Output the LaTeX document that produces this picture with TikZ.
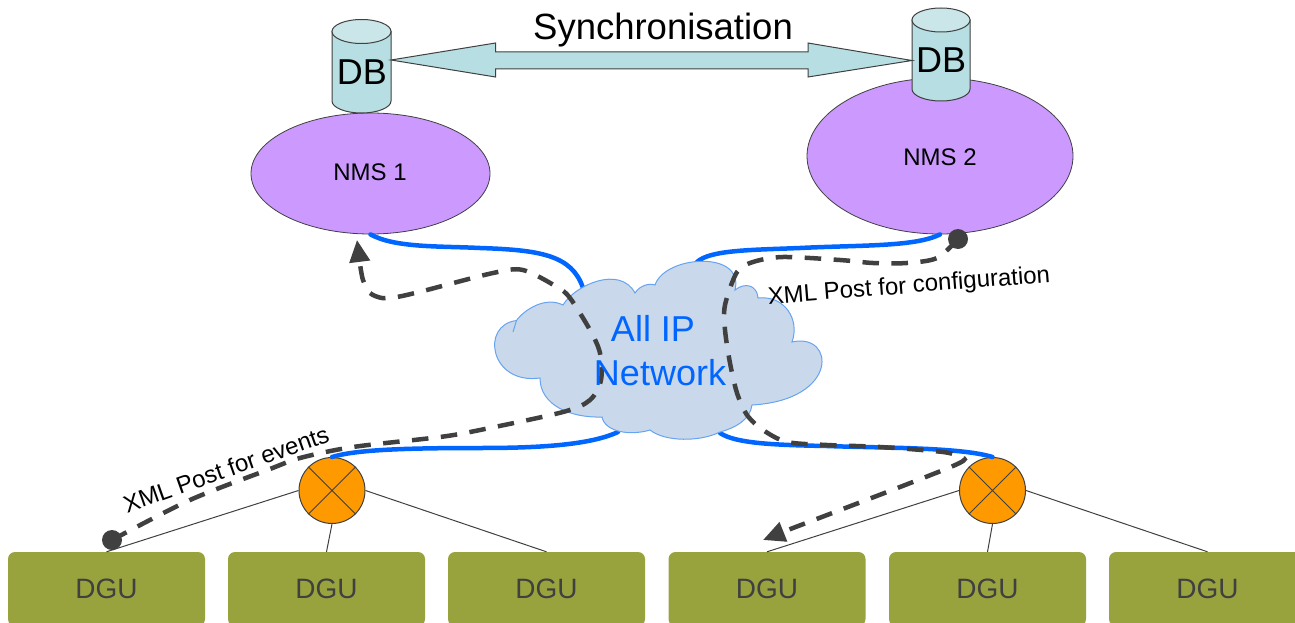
\documentclass[tikz,border=0pt]{standalone}
\usepackage{fontspec}
\setmainfont{Liberation Sans}
\usetikzlibrary{arrows.meta,shapes.geometric}
\definecolor{nmsfill}{HTML}{CC99FF}
\definecolor{dark}{HTML}{404040}
\definecolor{netblue}{HTML}{0066FF}
\definecolor{cloudfill}{HTML}{C9D9EB}
\definecolor{cloudedge}{HTML}{66A3F0}
\definecolor{swfill}{HTML}{FF9900}
\definecolor{dgufill}{HTML}{99A33D}
\definecolor{cylbody}{HTML}{B7DEE2}
\definecolor{cyltop}{HTML}{CBE6E9}
\tikzset{
  nms/.style={ellipse,draw=dark,line width=.8pt,fill=nmsfill,inner sep=0pt,font=\fontsize{24}{24}\selectfont,text=black},
  dgubox/.style={rectangle,rounded corners=7pt,fill=dgufill,minimum width=197pt,minimum height=74pt,inner sep=0pt,font=\fontsize{28}{28}\selectfont,text=dark},
  swnode/.style={circle,draw=dark,line width=1pt,fill=swfill,minimum size=66pt,inner sep=0pt},
  swcross/.style={draw=dark,line width=1pt},
  feed/.style={draw=dark,line width=1pt},
  link/.style={draw=netblue,line width=4.5pt,line cap=round},
  flow/.style={draw=dark,line width=4.5pt,dash pattern=on 16.5pt off 12.5pt},
  flowdot/.style={circle,fill=dark,minimum size=20pt,inner sep=0pt},
  cyl/.style={draw=dark,line width=1pt},
  lbl/.style={inner sep=0pt,text=black},
}
\begin{document}
\begin{tikzpicture}[x=1pt,y=-1pt]
\useasboundingbox (0,0) rectangle (1295,623);
\node[nms,minimum width=239pt,minimum height=121pt] (nms1) at (370.5,173.5) {};
\node[nms,minimum width=266pt,minimum height=156pt] (nms2) at (940,156) {};
\node[font=\fontsize{24}{24}\selectfont] at (370,172) (nms1t) {NMS 1};
\node[font=\fontsize{24}{24}\selectfont] at (940,157) (nms2t) {NMS 2};
\node[swnode] (sw1) at (332,490.5) {};
\node[swnode] (sw2) at (992.5,490.5) {};
\node[dgubox] (dgu1) at (106.5,589) {DGU};
\node[dgubox] (dgu2) at (326.5,589) {DGU};
\node[dgubox] (dgu3) at (546.5,589) {DGU};
\node[dgubox] (dgu4) at (767,589) {DGU};
\node[dgubox] (dgu5) at (987.5,589) {DGU};
\node[dgubox] (dgu6) at (1207.5,589) {DGU};
% cloud anchor points
\coordinate (c1) at (583,288);
\coordinate (c2) at (697,262);
\coordinate (c3) at (618,432);
\coordinate (c4) at (720,433);
% blue links
\draw[link] (nms1.south) .. controls (395,248) and (440,246) .. (480,248) .. controls (540,250) and (572,255) .. (c1);
\draw[link] (nms2.south) .. controls (915,247) and (860,245) .. (800,248) .. controls (750,250) and (710,250) .. (c2);
\draw[link] (sw1.north) .. controls (355,450) and (400,448) .. (480,448) .. controls (540,448) and (590,445) .. (c3);
\draw[link] (c4) .. controls (735,443) and (770,445) .. (827,446) .. controls (880,448) and (960,447) .. (sw2.north);
% cloud
\draw[fill=cloudfill,draw=cloudedge,line width=1pt]
  (516.5,320.5) .. controls (524,310) and (545,296) .. (563,305)
  .. controls (575,285) and (620,265) .. (635,293)
  .. controls (640,285) and (650,283) .. (655,285)
  .. controls (665,255) and (745,250) .. (735,290)
  .. controls (745,282) and (757,285) .. (758,298)
  .. controls (785,295) and (800,320) .. (792,342)
  .. controls (835,332) and (840,400) .. (752,405)
  .. controls (750,420) and (735,428) .. (720,432)
  .. controls (700,442) and (665,442) .. (650,430)
  .. controls (630,436) and (605,432) .. (602,417)
  .. controls (570,418) and (540,405) .. (540,378)
  .. controls (490,385) and (480,325) .. (516.5,320.5) -- cycle;
\draw[draw=cloudedge,line width=1pt] (516.5,320.5) -- (513,332);
% feeders
\draw[feed] (sw1.west) -- (dgu1.north);
\draw[feed] (sw1.south) -- (dgu2.north);
\draw[feed] (sw1.east) -- (dgu3.north);
\draw[feed] (sw2.west) -- (dgu4.north);
\draw[feed] (sw2.south) -- (dgu5.north);
\draw[feed] (sw2.east) -- (dgu6.north);
\draw[swcross] (sw1.45) -- (sw1.225) (sw1.135) -- (sw1.315);
\draw[swcross] (sw2.45) -- (sw2.225) (sw2.135) -- (sw2.315);
% DB cylinders
\draw[cyl,fill=cylbody] (332,31.5) -- (332,101) arc[start angle=180,end angle=360,x radius=29.5,y radius=-12] -- (391,31.5) -- cycle;
\draw[cyl,fill=cyltop] (361.5,31.5) ellipse[x radius=29.5,y radius=12];
\draw[cyl,fill=cylbody] (912,20) -- (912,89) arc[start angle=180,end angle=360,x radius=29,y radius=-12] -- (970,20) -- cycle;
\draw[cyl,fill=cyltop] (941,20) ellipse[x radius=29,y radius=12];
\node[lbl,font=\fontsize{36}{36}\selectfont] (db1) at (362,72) {DB};
\node[lbl,font=\fontsize{36}{36}\selectfont] (db2) at (941,60) {DB};
% synchronisation arrow
\coordinate (s1) at (391,60);
\coordinate (s2) at (912,60.5);
\draw[cyl,fill=cylbody] (s1) -- (495.5,43) -- (495.5,52) -- (808,52) -- (808,43) -- (s2) -- (808,77) -- (808,69) -- (495.5,69) -- (495.5,77) -- cycle;
\node[lbl,font=\fontsize{36.5}{36.5}\selectfont] (sync) at (663,30) {Synchronisation};
% dots
\node[flowdot] (dot1) at (112,540) {};
\node[flowdot] (dot2) at (958,239) {};
\coordinate (t1) at (357,240);
\coordinate (t2) at (763,540);
% dashed flows
\draw[flow,-{Triangle[length=22pt,width=20pt]}] plot[smooth,tension=.5] coordinates {(dot1) (190,500) (270,469) (300,458) (353,447) (440,437) (480,430) (563,412) (590,400) (601,380) (600,353) (590,330) (570,298) (557,287) (523,270) (493,273) (423,291) (397,297) (382,298) (370,293) (363,280) (360,264)} -- (t1);
\draw[flow,-{Triangle[length=22pt,width=20pt]}] plot[smooth,tension=.5] coordinates {(dot2) (937,258) (907,263) (873,263) (840,260) (783,257) (753,262) (737,272) (725,305) (725,330) (730,363) (737,393) (747,415) (763,430) (787,442) (827,445) (880,447) (943,452) (957,457) (953,466) (793,528)} -- (t2);
% labels
\node[lbl,font=\fontsize{24}{24}\selectfont,rotate=4.5] (cfg) at (909,287) {XML Post for configuration};
\node[lbl,font=\fontsize{24}{24}\selectfont,rotate=19.5] (evt) at (226,469) {XML Post for events};
\node[lbl,text=netblue,font=\fontsize{36}{36}\selectfont] (net1) at (653,328) {All IP};
\node[lbl,text=netblue,font=\fontsize{36}{36}\selectfont] (net2) at (660,373) {Network};
\end{tikzpicture}
\end{document}
